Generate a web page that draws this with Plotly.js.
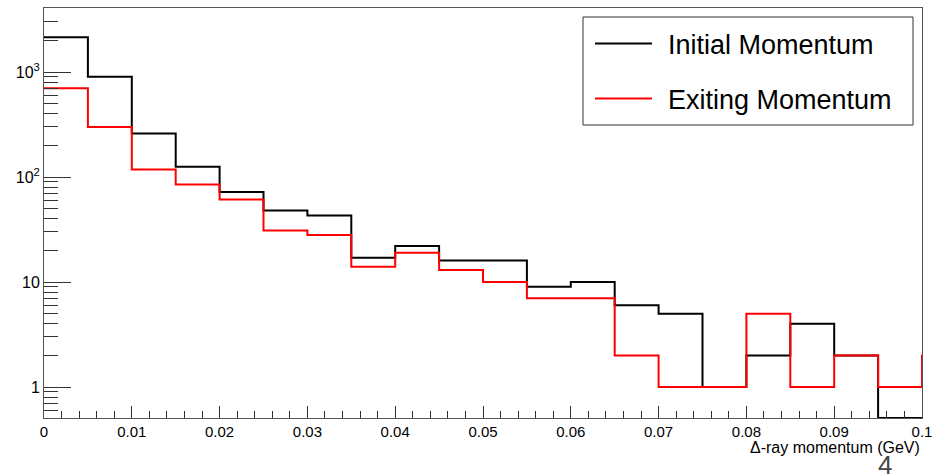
<!DOCTYPE html>
<html>
<head>
<meta charset="utf-8">
<script src="https://cdn.plot.ly/plotly-3.0.1.min.js"></script>
<style>html,body{margin:0;padding:0;background:#fff;} #chart{width:933px;height:475px;}</style>
</head>
<body>
<div id="chart"></div>
<script>
// Bin edges (GeV), 0.005 wide; the last bin lies beyond the drawn axis range
const binEdges = [0, 0.005, 0.01, 0.015, 0.02, 0.025, 0.03, 0.035, 0.04, 0.045, 0.05,
  0.055, 0.06, 0.065, 0.07, 0.075, 0.08, 0.085, 0.09, 0.095, 0.1, 0.105];
// Counts per bin
const initialCounts = [2150, 900, 260, 125, 72, 48, 43, 17, 22, 16, 16,
  9, 10, 6, 5, 1, 2, 4, 2, 0, 0];
const exitingCounts = [700, 300, 118, 85, 61, 31, 28, 14, 19, 13, 10,
  7, 7, 2, 1, 1, 5, 1, 2, 1, 2];
const seriesNames = ["Initial Momentum", "Exiting Momentum"];
const xTickVals = [0, 0.01, 0.02, 0.03, 0.04, 0.05, 0.06, 0.07, 0.08, 0.09, 0.1];
const xTickText = ["0", "0.01", "0.02", "0.03", "0.04", "0.05", "0.06", "0.07", "0.08", "0.09", "0.1"];
const yTickVals = [1, 10, 100, 1000];
const yTickText = ["1", "10", "10<sup>2</sup>", "10<sup>3</sup>"];
const yMinorVals = [0.6, 0.7, 0.8, 0.9, 2, 3, 4, 5, 6, 7, 8, 9, 20, 30, 40, 50, 60, 70, 80, 90,
  200, 300, 400, 500, 600, 700, 800, 900, 2000, 3000];

const yRange = [-0.295, 3.61];
const yFloor = Math.pow(10, yRange[0]);

function stepTrace(counts, color, name) {
  const ys = counts.map(v => v > 0 ? v : yFloor);
  ys.push(ys[ys.length - 1]);
  return {
    x: binEdges.slice(0, ys.length),
    y: ys,
    type: 'scatter', mode: 'lines',
    line: {shape: 'hv', color: color, width: 2},
    name: name, showlegend: false, hoverinfo: 'skip'
  };
}

const font = "Liberation Sans, Arial, Helvetica, sans-serif";
const data = [
  stepTrace(initialCounts, '#000000', seriesNames[0]),
  stepTrace(exitingCounts, '#ff0000', seriesNames[1])
];

const L = 44, R = 922, T = 8, B = 418;
const px = v => (v - L) / (R - L);
const py = v => (B - v) / (B - T);

const layout = {
  width: 933, height: 475,
  margin: {l: 44, r: 11, t: 8, b: 57},
  paper_bgcolor: '#ffffff', plot_bgcolor: '#ffffff',
  font: {family: font, size: 15, color: '#000'},
  showlegend: false,
  xaxis: {
    range: [0, 0.1], showgrid: false, zeroline: false,
    showline: true, linecolor: '#555', linewidth: 1, mirror: true,
    ticks: 'inside', ticklen: 12, tickcolor: '#333', tickwidth: 1,
    tickmode: 'array', tickvals: xTickVals, ticktext: xTickText,
    tickfont: {family: font, size: 15, color: '#000'},
    minor: {dtick: 0.002, tick0: 0, ticks: 'inside', ticklen: 7, tickcolor: '#333', showgrid: false}
  },
  yaxis: {
    type: 'log', range: yRange, showgrid: false, zeroline: false,
    showline: true, linecolor: '#555', linewidth: 1, mirror: true,
    ticks: 'inside', ticklen: 27, tickcolor: '#333', tickwidth: 1,
    tickmode: 'array', tickvals: yTickVals, ticktext: yTickText,
    tickfont: {family: font, size: 16, color: '#000'},
    minor: {tickmode: 'array', tickvals: yMinorVals, ticks: 'inside', ticklen: 14, tickcolor: '#333', showgrid: false}
  },
  shapes: [
    {type: 'rect', xref: 'paper', yref: 'paper', x0: px(583), x1: px(913), y0: py(125), y1: py(17),
     line: {color: '#333', width: 1}, fillcolor: '#ffffff'},
    {type: 'line', xref: 'paper', yref: 'paper', x0: px(595), x1: px(652), y0: py(43.5), y1: py(43.5),
     line: {color: '#000', width: 2}},
    {type: 'line', xref: 'paper', yref: 'paper', x0: px(595), x1: px(652), y0: py(98.5), y1: py(98.5),
     line: {color: '#ff0000', width: 2}}
  ],
  annotations: [
    {xref: 'paper', yref: 'paper', x: px(666), y: py(45), xanchor: 'left', yanchor: 'middle',
     text: seriesNames[0], showarrow: false, font: {family: font, size: 27, color: '#000'}},
    {xref: 'paper', yref: 'paper', x: px(666), y: py(100), xanchor: 'left', yanchor: 'middle',
     text: seriesNames[1], showarrow: false, font: {family: font, size: 27, color: '#000'}},
    {xref: 'paper', yref: 'paper', x: 1, y: py(447), xanchor: 'right', yanchor: 'middle',
     text: 'Δ-ray momentum (GeV)', showarrow: false, font: {family: font, size: 16, color: '#000'}},
    {xref: 'paper', yref: 'paper', x: px(885), y: py(465), xanchor: 'center', yanchor: 'middle',
     text: '4', showarrow: false, font: {family: font, size: 26, color: '#444'}}
  ]
};

Plotly.newPlot('chart', data, layout, {displayModeBar: false, staticPlot: true});
</script>
</body>
</html>
